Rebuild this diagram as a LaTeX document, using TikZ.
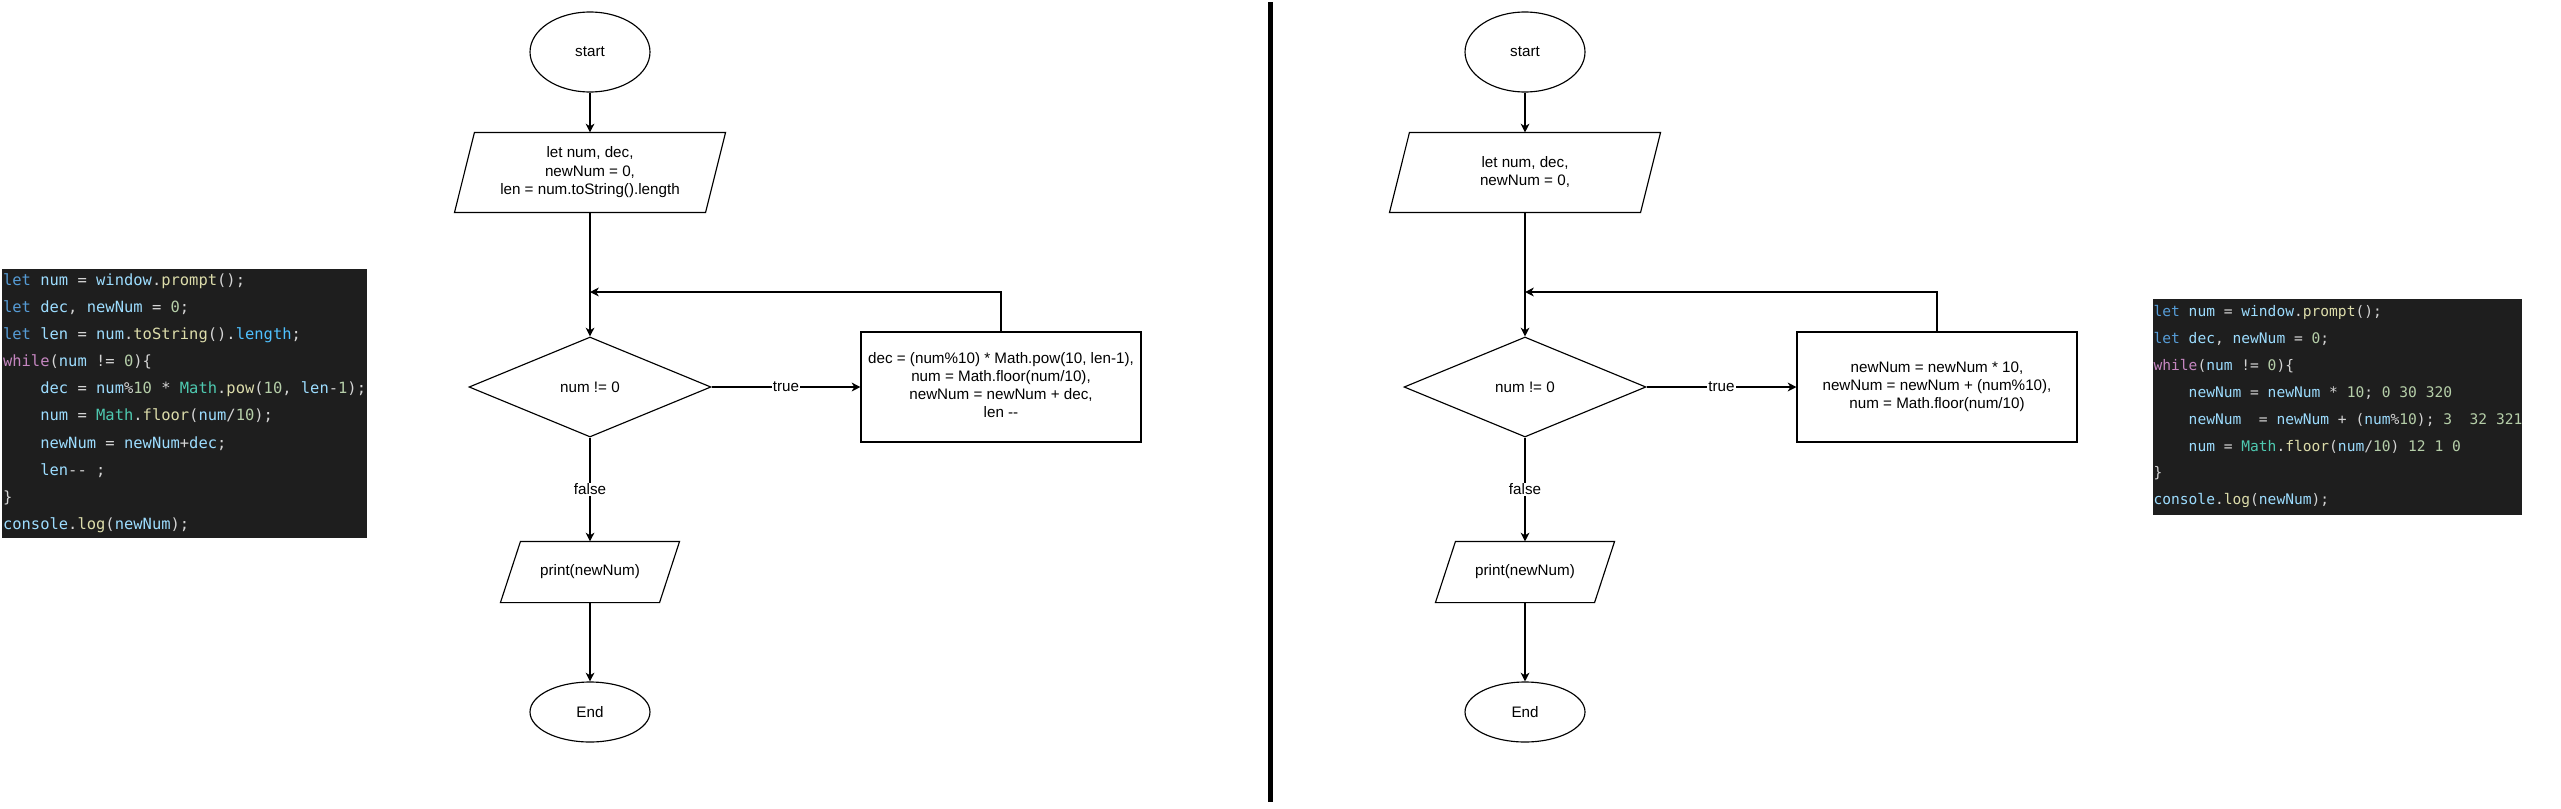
\documentclass[tikz,border=0pt]{standalone}
\usepackage{fontspec}
\setmainfont{Liberation Sans}
\setmonofont{DejaVu Sans Mono}
\usetikzlibrary{shapes.geometric,arrows.meta,calc}

\definecolor{codebg}{HTML}{1E1E1E}
\definecolor{ckw}{HTML}{569CD6}
\definecolor{cvar}{HTML}{9CDCFE}
\definecolor{cfn}{HTML}{DCDCAA}
\definecolor{cctl}{HTML}{C586C0}
\definecolor{cnum}{HTML}{B5CEA8}
\definecolor{ccls}{HTML}{4EC9B0}
\definecolor{cconst}{HTML}{4FC1FF}
\definecolor{cpun}{HTML}{D4D4D4}

\newcommand{\cdK}[1]{\textcolor{ckw}{#1}}
\newcommand{\cdV}[1]{\textcolor{cvar}{#1}}
\newcommand{\cdF}[1]{\textcolor{cfn}{#1}}
\newcommand{\cdW}[1]{\textcolor{cctl}{#1}}
\newcommand{\cdN}[1]{\textcolor{cnum}{#1}}
\newcommand{\cdM}[1]{\textcolor{ccls}{#1}}
\newcommand{\cdC}[1]{\textcolor{cconst}{#1}}
\newcommand{\cdInd}{\phantom{0000}}
\newcommand{\cdSp}{\phantom{0}}

\begin{document}
\begin{tikzpicture}[x=0.02cm,y=-0.02cm,
  line width=0.65pt,
  arr/.style={-{Stealth[length=5pt,width=5pt,inset=1.5pt]}},
  fc/.style={font=\fontsize{8.65}{10.36}\selectfont, align=center, inner sep=0pt},
  term/.style={fc, ellipse, draw, minimum width=2.4cm},
  io/.style={fc, rectangle},
  decision/.style={fc, diamond, draw, minimum width=4.84cm, minimum height=2cm},
  proc/.style={fc, rectangle, draw, minimum width=5.6cm, minimum height=2.2cm},
  lbl/.style={fill=white, font=\fontsize{8.65}{10.36}\selectfont, inner sep=0.6pt},
  codebox/.style={fill=codebg, inner sep=0pt, anchor=north west},
  codetxt/.style={text=cpun, align=left, inner sep=0pt, anchor=west},
]
\fill[white] (0,0) rectangle (2561,808);
\useasboundingbox (0,0) rectangle (2561,808);

% ---------- left code ----------
\node[codebox, minimum width=7.3cm, minimum height=5.38cm] (code1) at (1,268) {};
\node[codetxt, font=\ttfamily\fontsize{8.8}{15.45}\selectfont] (code1t) at ([xshift=0.03cm]code1.west) {%
\cdK{let} \cdV{num} = \cdV{window}.\cdF{prompt}();\\
\cdK{let} \cdV{dec}, \cdV{newNum} = \cdN{0};\\
\cdK{let} \cdV{len} = \cdV{num}.\cdF{toString}().\cdC{length};\\
\cdW{while}(\cdV{num} != \cdN{0})\{\\
\cdInd\cdV{dec} = \cdV{num}\%\cdN{10} * \cdM{Math}.\cdF{pow}(\cdN{10}, \cdV{len}-\cdN{1});\\
\cdInd\cdV{num} = \cdM{Math}.\cdF{floor}(\cdV{num}/\cdN{10});\\
\cdInd\cdV{newNum} = \cdV{newNum}+\cdV{dec};\\
\cdInd\cdV{len}-- ;\\
\}\\
\cdV{console}.\cdF{log}(\cdV{newNum});};

% ---------- right code ----------
\node[codebox, minimum width=7.38cm, minimum height=4.32cm] (code2) at (2152,298) {};
\node[codetxt, font=\ttfamily\fontsize{8.3}{15.35}\selectfont] (code2t) at ([xshift=0.02cm]code2.west) {%
\cdK{let} \cdV{num} = \cdV{window}.\cdF{prompt}();\\
\cdK{let} \cdV{dec}, \cdV{newNum} = \cdN{0};\\
\cdW{while}(\cdV{num} != \cdN{0})\{\\
\cdInd\cdV{newNum} = \cdV{newNum} * \cdN{10}; \cdN{0} \cdN{30} \cdN{320}\\
\cdInd\cdV{newNum}\cdSp{} = \cdV{newNum} + (\cdV{num}\%\cdN{10}); \cdN{3}\cdSp{} \cdN{32} \cdN{321}\\
\cdInd\cdV{num} = \cdM{Math}.\cdF{floor}(\cdV{num}/\cdN{10}) \cdN{12} \cdN{1} \cdN{0}\\
\}\\
\cdV{console}.\cdF{log}(\cdV{newNum});};

% ---------- divider ----------
\draw[line width=2.85pt] (1270.5,2) -- (1270.5,802);

% ---------- left flowchart ----------
\node[term, minimum height=1.6cm] (s1) at (590,52) {start};
\node[io, minimum width=5.4cm, minimum height=1.58cm] (p1) at (590,172.5)
  {\strut let num, dec,\\\strut newNum = 0,\\\strut len = num.toString().length};
\draw ($(p1.north west)+(20,0)$) -- (p1.north east) -- ($(p1.south east)+(-20,0)$) -- (p1.south west) -- cycle;
\node[decision] (d1) at (590,387) {num != 0};
\node[proc] (b1) at (1001,387)
  {\strut dec = (num\%10) * Math.pow(10, len-1),\\\strut num = Math.floor(num/10),\\\strut newNum = newNum + dec,\\\strut len -\kern0pt-};
\node[io, minimum width=3.56cm, minimum height=1.2cm] (r1) at (590,572) {print(newNum)};
\draw ($(r1.north west)+(20,0)$) -- (r1.north east) -- ($(r1.south east)+(-20,0)$) -- (r1.south west) -- cycle;
\node[term, minimum height=1.2cm] (e1) at (590,712) {End};
\coordinate (j1) at (590,292);

\draw[arr] (s1) -- (p1);
\draw[arr] (p1) -- (d1);
\draw[arr] (d1) -- node[lbl] {true} (b1);
\draw[arr] (b1.north) |- (j1);
\draw[arr] (d1) -- node[lbl] {false} (r1);
\draw[arr] (r1) -- (e1);

% ---------- right flowchart ----------
\node[term, minimum height=1.6cm] (s2) at (1525,52) {start};
\node[io, minimum width=5.4cm, minimum height=1.58cm] (p2) at (1525,172.5)
  {\strut let num, dec,\\\strut newNum = 0,};
\draw ($(p2.north west)+(20,0)$) -- (p2.north east) -- ($(p2.south east)+(-20,0)$) -- (p2.south west) -- cycle;
\node[decision] (d2) at (1525,387) {num != 0};
\node[proc] (b2) at (1937,387)
  {\strut newNum = newNum * 10,\\\strut newNum = newNum + (num\%10),\\\strut num = Math.floor(num/10)};
\node[io, minimum width=3.56cm, minimum height=1.2cm] (r2) at (1525,572) {print(newNum)};
\draw ($(r2.north west)+(20,0)$) -- (r2.north east) -- ($(r2.south east)+(-20,0)$) -- (r2.south west) -- cycle;
\node[term, minimum height=1.2cm] (e2) at (1525,712) {End};
\coordinate (j2) at (1525,292);

\draw[arr] (s2) -- (p2);
\draw[arr] (p2) -- (d2);
\draw[arr] (d2) -- node[lbl] {true} (b2);
\draw[arr] (b2.north) |- (j2);
\draw[arr] (d2) -- node[lbl] {false} (r2);
\draw[arr] (r2) -- (e2);
\end{tikzpicture}
\end{document}
